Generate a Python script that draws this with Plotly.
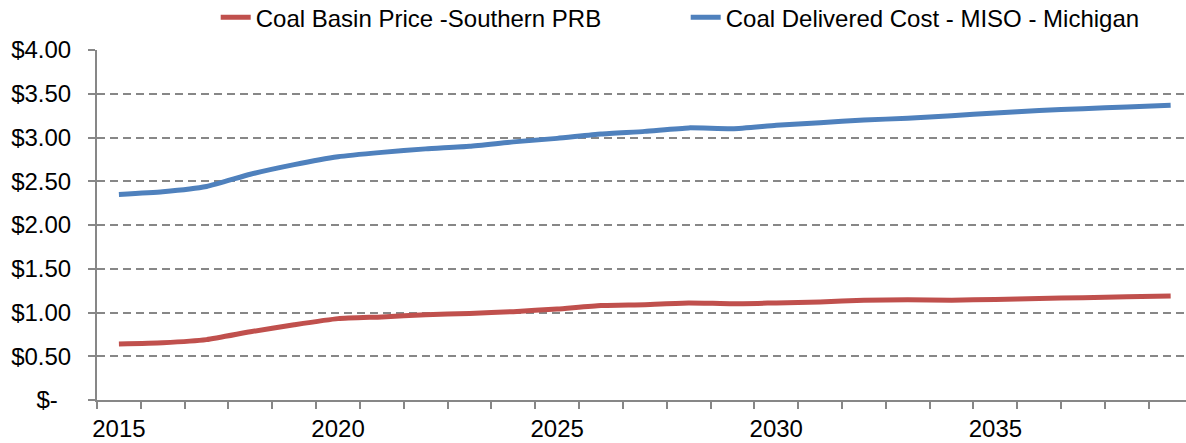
import plotly.graph_objects as go

# Annual coal price forecasts, $/MMBtu
years = list(range(2015, 2040))

basin_price_southern_prb = [
    0.64, 0.655, 0.69, 0.78, 0.86, 0.93, 0.95, 0.975, 0.99, 1.01,
    1.04, 1.08, 1.09, 1.11, 1.10, 1.11, 1.12, 1.14, 1.145, 1.14,
    1.15, 1.16, 1.17, 1.18, 1.19,
]

delivered_cost_miso_michigan = [
    2.35, 2.38, 2.44, 2.58, 2.69, 2.78, 2.83, 2.87, 2.90, 2.95,
    2.99, 3.04, 3.07, 3.11, 3.10, 3.14, 3.17, 3.20, 3.22, 3.25,
    3.28, 3.31, 3.33, 3.35, 3.37,
]

series_names = [
    "Coal Basin Price -Southern PRB",
    "Coal Delivered Cost - MISO - Michigan",
]
series_colors = ["#C0504D", "#4F81BD"]

y_tick_values = [0, 0.5, 1, 1.5, 2, 2.5, 3, 3.5, 4]
y_tick_labels = ["$-\u00a0\u00a0", "$0.50", "$1.00", "$1.50", "$2.00",
                 "$2.50", "$3.00", "$3.50", "$4.00"]
x_tick_values = [2015, 2020, 2025, 2030, 2035]

FONT = "Liberation Sans, Arial, sans-serif"
GRID = "#878787"

fig = go.Figure()
for name, values, color in zip(series_names,
                               [basin_price_southern_prb, delivered_cost_miso_michigan],
                               series_colors):
    fig.add_trace(go.Scatter(
        x=years, y=values, name=name, mode="lines",
        line=dict(color=color, width=5, shape="spline", smoothing=0.5),
    ))

fig.update_layout(
    width=1186, height=443,
    margin=dict(l=97, r=0, t=50, b=43, autoexpand=False),
    paper_bgcolor="white", plot_bgcolor="white",
    font=dict(family=FONT, size=24, color="black"),
    showlegend=True,
    legend=dict(
        orientation="h", x=0.109, xanchor="left", y=1.028, yanchor="bottom",
        font=dict(size=24), itemwidth=30, entrywidth=425,
        bgcolor="rgba(0,0,0,0)", tracegroupgap=0,
    ),
)

fig.update_xaxes(
    range=[2014.5, 2039.35],
    tickvals=x_tick_values, ticktext=[str(v) for v in x_tick_values],
    ticks="", showgrid=False, zeroline=False,
    showline=True, linecolor=GRID, linewidth=2,
    ticklabelstandoff=6,
    minor=dict(tick0=2014.5, dtick=1, ticks="outside", ticklen=7,
               tickcolor=GRID, tickwidth=2, showgrid=False),
)

fig.update_yaxes(
    range=[0, 4],
    tickvals=y_tick_values, ticktext=y_tick_labels,
    ticks="outside", ticklen=7, tickcolor=GRID, tickwidth=2,
    showgrid=True, gridcolor=GRID, gridwidth=2, griddash="8px,5px",
    zeroline=False,
    showline=True, linecolor=GRID, linewidth=2,
    ticklabelstandoff=12,
)

fig.write_html("out.html")
